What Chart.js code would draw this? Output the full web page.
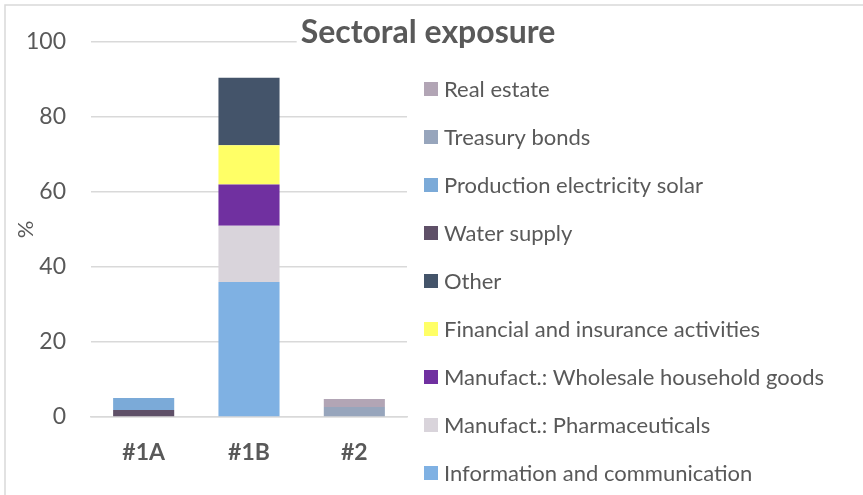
<!DOCTYPE html>
<html>
<head>
<meta charset="utf-8">
<script src="https://cdn.jsdelivr.net/npm/chart.js@4"></script>
<style>
  html, body { margin: 0; padding: 0; background: #ffffff; overflow: hidden; }
  #wrap { width: 863px; height: 495px; position: relative; }
</style>
</head>
<body>
<div id="wrap"><canvas id="c" width="863" height="495"></canvas></div>
<script>
// ---- data ----
const categories = ['#1A', '#1B', '#2'];
const yTicks = [0, 20, 40, 60, 80, 100];
const infoComm = [0, 36, 0];
const pharma = [0, 15, 0];
const wholesale = [0, 11, 0];
const financial = [0, 10.5, 0];
const other = [0, 18, 0];
const waterSupply = [1.9, 0, 0];
const solar = [3.2, 0, 0];
const treasury = [0, 0, 2.7];
const realEstate = [0, 0, 2.1];
const seriesNames = [
  'Information and communication',
  'Manufact.: Pharmaceuticals',
  'Manufact.: Wholesale household goods',
  'Financial and insurance activities',
  'Other',
  'Water supply',
  'Production electricity solar',
  'Treasury bonds',
  'Real estate'
];
const seriesValues = [infoComm, pharma, wholesale, financial, other, waterSupply, solar, treasury, realEstate];
const titleText = 'Sectoral exposure';
const yTitle = '%';

// ---- styles ----
const colors = ['#7FB1E3', '#D9D4DB', '#7030A0', '#FFFF66', '#44546A', '#5F5068', '#7BAAD8', '#97A5BC', '#B2A5B5'];
const FONT = 'Lato, "Open Sans", sans-serif';
const TXT = '#595959';
const GRID = '#d9d9d9';

const datasets = seriesNames.map((name, i) => ({
  label: name,
  data: seriesValues[i],
  backgroundColor: colors[i],
  borderWidth: 0,
  categoryPercentage: 1.0,
  barPercentage: 0.58
}));

const frame = {
  id: 'frame',
  beforeDraw(chart) {
    const ctx = chart.ctx;
    ctx.save();
    ctx.fillStyle = '#fff';
    ctx.fillRect(0, 0, chart.width, chart.height);
    ctx.strokeStyle = GRID;
    ctx.lineWidth = 1.5;
    ctx.strokeRect(5, 5, chart.width + 20, chart.height + 20);
    ctx.restore();
  }
};

const titleAndLegend = {
  id: 'titleAndLegend',
  afterDraw(chart) {
    const ctx = chart.ctx;
    ctx.save();
    // title with white box
    ctx.font = 'bold 32px ' + FONT;
    const tw = ctx.measureText(titleText).width;
    const tx = 428, ty = 33;
    ctx.fillStyle = '#fff';
    ctx.fillRect(tx - tw / 2 - 4, ty - 20, tw + 8, 40);
    ctx.fillStyle = TXT;
    ctx.textAlign = 'center';
    ctx.textBaseline = 'middle';
    ctx.fillText(titleText, tx, ty);
    // legend (reversed order, like the stacked bars)
    ctx.font = '22px ' + FONT;
    ctx.textAlign = 'left';
    const ds = chart.data.datasets.slice().reverse();
    ds.forEach((d, i) => {
      const y = 89 + i * 48;
      ctx.fillStyle = d.backgroundColor;
      ctx.fillRect(424, y - 7, 14, 14);
      ctx.fillStyle = TXT;
      ctx.fillText(d.label, 444, y + 1);
    });
    ctx.restore();
  }
};

new Chart(document.getElementById('c'), {
  type: 'bar',
  data: { labels: categories, datasets },
  options: {
    responsive: false,
    animation: false,
    devicePixelRatio: 1,
    layout: { padding: { left: 0, top: 42, right: 456, bottom: 0 } },
    plugins: {
      legend: { display: false },
      title: { display: false },
      tooltip: { enabled: false }
    },
    scales: {
      x: {
        stacked: true,
        grid: { display: false, drawTicks: false },
        border: { display: true, color: GRID, width: 1.5 },
        ticks: { color: TXT, font: { family: FONT, size: 23, weight: 'bold' }, padding: 22 },
        afterFit(s) { s.height = 78; }
      },
      y: {
        stacked: true,
        min: 0,
        max: 100,
        afterBuildTicks(s) { s.ticks = yTicks.map(v => ({ value: v })); },
        grid: { color: GRID, lineWidth: 1.5, drawTicks: false },
        border: { display: false },
        ticks: { color: TXT, font: { family: FONT, size: 23 }, padding: 25 },
        title: { display: true, text: yTitle, color: TXT, font: { family: FONT, size: 22 }, padding: { top: 13, bottom: 0 } },
        afterFit(s) { s.width = 91; }
      }
    }
  },
  plugins: [frame, titleAndLegend]
});
</script>
</body>
</html>
